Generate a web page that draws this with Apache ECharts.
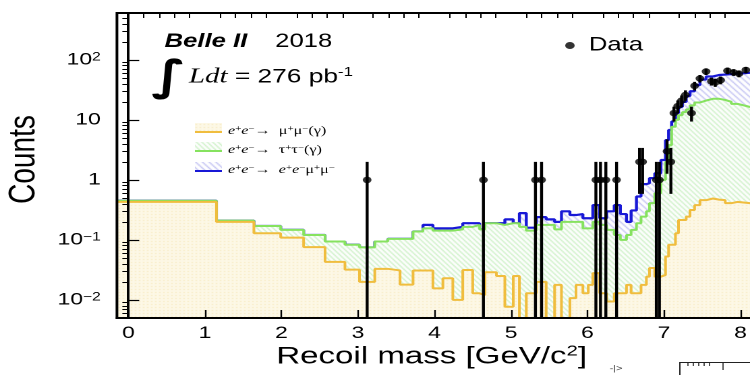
<!DOCTYPE html>
<html>
<head>
<meta charset="utf-8">
<title>Recoil mass distribution</title>
<script src="https://cdn.jsdelivr.net/npm/echarts@6.0.0/dist/echarts.min.js"></script>
<style>
  html, body { margin: 0; padding: 0; background: #ffffff; width: 750px; height: 375px; overflow: hidden; }
  /* the figure is laid out narrow and stretched horizontally to 750 px */
  #chart { width: 556px; height: 375px; transform-origin: 0 0; transform: scaleX(1.3489); }
</style>
</head>
<body>
<div id="chart"></div>
<script>
// Recoil-mass bin edges [GeV/c^2]; bins get narrower towards high mass
const massEdges = [-0.15, 1.15, 1.64, 1.99, 2.29, 2.57, 2.83, 3.02, 3.22, 3.39, 3.55, 3.72, 3.85, 3.98,
  4.11, 4.24, 4.37, 4.50, 4.59, 4.66, 4.81, 4.92, 5.03, 5.11, 5.20, 5.33, 5.46, 5.57, 5.66, 5.77,
  5.85, 5.94, 6.01, 6.07, 6.16, 6.25, 6.35, 6.43, 6.51, 6.57, 6.64, 6.70, 6.77, 6.81, 6.88, 6.96,
  7.02, 7.06, 7.10, 7.15, 7.19, 7.24, 7.29, 7.34, 7.40, 7.47, 7.55, 7.64, 7.72, 7.80, 7.88, 7.96,
  8.04, 8.12, 8.20];

// Stacked expectations per bin: mu mu(gamma); + tau tau(gamma); + e e mu mu
const levelMuMu = [0.43, 0.20, 0.129, 0.109, 0.076, 0.043, 0.032, 0.020, 0.033, 0.031, 0.018, 0.031,
  0.031, 0.0156, 0.023, 0.010, 0.0316, 0.0129, 0.012, 0.029, 0.025, 0.0077, 0.025, 0, 0.0129, 0.020,
  0, 0.0178, 0, 0.0107, 0.0178, 0.0129, 0.0178, 0.028, 0.0129, 0.0094, 0.0129, 0.0129, 0.0178, 0.0129,
  0.0129, 0.0178, 0.0245, 0.034, 0.0245, 0.026, 0.053, 0.083, 0.083, 0.129, 0.215, 0.215, 0.245, 0.316,
  0.38, 0.46, 0.49, 0.47, 0.46, 0.41, 0.43, 0.42, 0.41, 0.40];

const levelMuMuTauTau = [0.45, 0.21, 0.171, 0.147, 0.121, 0.094, 0.083, 0.075, 0.094, 0.104, 0.104, 0.138,
  0.156, 0.143, 0.143, 0.15, 0.165, 0.178, 0.15, 0.19, 0.178, 0.19, 0.19, 0.165, 0.143, 0.178,
  0.178, 0.15, 0.2, 0.2, 0.2, 0.156, 0.156, 0.2, 0.178, 0.147, 0.121, 0.1, 0.121, 0.147,
  0.19, 0.245, 0.3, 0.41, 0.6, 1.0, 2.0, 3.8, 7.7, 10, 12, 13.5, 15, 17.5,
  19.5, 21, 22.5, 22.5, 21.5, 20, 18.5, 17.5, 16.5, 16];

const levelTotal = [0.45, 0.21, 0.171, 0.147, 0.121, 0.094, 0.083, 0.075, 0.094, 0.104, 0.104, 0.138,
  0.178, 0.156, 0.156, 0.165, 0.19, 0.19, 0.15, 0.19, 0.19, 0.22, 0.19, 0.28, 0.16, 0.24,
  0.22, 0.2, 0.3, 0.26, 0.27, 0.23, 0.23, 0.38, 0.23, 0.3, 0.38, 0.27, 0.2, 0.31,
  0.53, 0.85, 0.88, 1.07, 1.29, 2.15, 4.6, 6.8, 9.4, 13, 16.5, 20, 25, 30,
  38, 47, 53, 56, 57, 58, 59, 60, 61, 61];

// Observed events
const dataMass = [3.12, 4.64, 5.32, 5.40, 6.11, 6.17, 6.24, 6.38, 6.68, 6.72, 6.90, 6.94, 7.04, 7.09,
  7.13, 7.18, 7.23, 7.28, 7.36, 7.40, 7.47, 7.55, 7.62, 7.67, 7.74, 7.83, 7.91, 7.98, 8.07];
const dataCounts = [1, 1, 1, 1, 1, 1, 1, 1, 2, 2, 1, 1, 3, 2,
  13, 17, 21, 26, 13, 37, 49, 64, 44, 42, 46, 66, 62, 59, 68];

// Axis ticks and labels
const xTickValues = [0, 1, 2, 3, 4, 5, 6, 7, 8];
const xMinorPerMajor = 5;
const yTickValues = [0.01, 0.1, 1, 10, 100];
const yTickBase = ['10', '10', '1', '10', '10'];
const yTickExp = ['\u22122', '\u22121', '', '', '2'];

const X_MIN = -0.15, X_MAX = 8.2;
const Y_MIN = 0.005, Y_MAX = 605;
const EMPTY = 1e-4;             // empty bins are drawn below the axis floor

const FONT = '"Liberation Sans", Arial, Helvetica, sans-serif';
const SERIF = '"Liberation Serif", "Times New Roman", serif';
const C_MUMU = '#f0bd3e', C_TAUTAU = '#86e25f', C_EEMUMU = '#1818d6';

// ---- fill patterns ----
function hatchPattern(bg, fg, w, h) {
  const c = document.createElement('canvas');
  c.width = w; c.height = h;
  const g = c.getContext('2d');
  g.fillStyle = bg; g.fillRect(0, 0, w, h);
  g.strokeStyle = fg; g.lineWidth = 1;
  g.beginPath();
  for (let k = -1; k <= 1; k++) {
    g.moveTo(k * w - w, -h); g.lineTo(k * w + 2 * w, 2 * h);
  }
  g.stroke();
  return { image: c, repeat: 'repeat' };
}
function dotPattern(bg, fg) {
  const c = document.createElement('canvas');
  c.width = 3; c.height = 3;
  const g = c.getContext('2d');
  g.fillStyle = bg; g.fillRect(0, 0, 3, 3);
  g.fillStyle = fg; g.fillRect(1, 1, 1, 1);
  return { image: c, repeat: 'repeat' };
}
const fillMuMu = dotPattern('#fdf8e6', '#f6e9bd');
const fillTauTau = hatchPattern('#ffffff', '#b9ecb0', 4, 5);
const fillEEMuMu = hatchPattern('#ffffff', '#a9a9ee', 5, 6);

// ---- derived series data ----
function histSteps(levels) {
  const pts = levels.map((v, i) => [massEdges[i], v > 0 ? v : EMPTY]);
  pts.push([massEdges[massEdges.length - 1], pts[pts.length - 1][1]]);
  return pts;
}
const dataPoints = dataMass.map((m, i) => [m, dataCounts[i]]);
const dataErrors = dataMass.map((m, i) => {
  const n = dataCounts[i], s = Math.sqrt(n);
  return [m, Math.max(n - s, Y_MIN), n + s];
});

const xMinorTicks = [];
for (let i = 0; i < xTickValues.length; i++) {
  for (let j = 1; j < xMinorPerMajor; j++) {
    const v = +(xTickValues[i] + j / xMinorPerMajor).toFixed(3);
    if (v <= X_MAX) xMinorTicks.push(v);
  }
}
const yMinorTicks = [];
for (let e = -3; e <= 2; e++) {
  for (let m = 2; m <= 9; m++) {
    const v = m * Math.pow(10, e);
    if (v >= Y_MIN && v <= Y_MAX) yMinorTicks.push(v);
  }
}

function yLabel(v) {
  let idx = 0, best = Infinity;
  yTickValues.forEach((t, i) => {
    const d = Math.abs(Math.log10(t) - Math.log10(v));
    if (d < best) { best = d; idx = i; }
  });
  return yTickExp[idx] ? '{b|' + yTickBase[idx] + '}{sup|' + yTickExp[idx] + '}' : '{b|' + yTickBase[idx] + '}';
}

function processLabel(finalState) {
  return '{e|e}{s|+}{e|e}{s|\u2212}{n|\u2192  }' + finalState;
}
const legendRich = {
  e: { fontFamily: SERIF, fontStyle: 'italic', fontSize: 12, color: '#000' },
  n: { fontFamily: SERIF, fontSize: 12, color: '#000' },
  s: { fontFamily: SERIF, fontSize: 8, color: '#000', verticalAlign: 'top' }
};
const legendRows = [
  { y: 131, fill: fillMuMu, color: C_MUMU, text: processLabel('{n|\u03bc}{s|+}{n|\u03bc}{s|\u2212}{n|(\u03b3)}') },
  { y: 150, fill: fillTauTau, color: C_TAUTAU, text: processLabel('{n|\u03c4}{s|+}{n|\u03c4}{s|\u2212}{n|(\u03b3)}') },
  { y: 170, fill: fillEEMuMu, color: C_EEMUMU, text: processLabel('{e|e}{s|+}{e|e}{s|\u2212}{n|\u03bc}{s|+}{n|\u03bc}{s|\u2212}') }
];

const graphics = [];
graphics.push({ type: 'text', x: 122, y: 42, z: 20,
  style: { text: 'Belle II', font: 'italic bold 19px ' + FONT, fill: '#000', verticalAlign: 'middle', textVerticalAlign: 'middle' } });
graphics.push({ type: 'text', x: 204, y: 42, z: 20,
  style: { text: '2018', font: '19px ' + FONT, fill: '#000', verticalAlign: 'middle', textVerticalAlign: 'middle' } });
graphics.push({ type: 'text', x: 125, y: 79, z: 20,
  style: { text: '\u222b', font: 'bold 42px "DejaVu Sans", ' + FONT, fill: '#000', align: 'center', textAlign: 'center', verticalAlign: 'middle', textVerticalAlign: 'middle' } });
graphics.push({ type: 'text', x: 140, y: 77, z: 20,
  style: {
    text: '{it|Ldt}{n| = 276 pb}{sup|-1}', fill: '#000', verticalAlign: 'middle', textVerticalAlign: 'middle',
    rich: {
      it: { fontFamily: SERIF, fontStyle: 'italic', fontSize: 21.5, color: '#000' },
      n: { fontFamily: FONT, fontSize: 19.5, color: '#000' },
      sup: { fontFamily: FONT, fontSize: 12.5, color: '#000', verticalAlign: 'top' }
    }
  } });
legendRows.forEach(r => {
  graphics.push({ type: 'rect', z: 20, shape: { x: 144.5, y: r.y - 8, width: 20, height: 9 },
    style: { fill: r.fill, stroke: null } });
  graphics.push({ type: 'line', z: 21, shape: { x1: 144.5, y1: r.y + 1, x2: 164.5, y2: r.y + 1 },
    style: { stroke: r.color, lineWidth: 2 } });
  graphics.push({ type: 'text', x: 169, y: r.y, z: 21,
    style: { text: r.text, rich: legendRich, verticalAlign: 'middle', textVerticalAlign: 'middle' } });
});
// frame of the neighbouring panel peeking in at the lower right
graphics.push({ type: 'text', x: 452, y: 369, z: 20,
  style: { text: '-|>', font: '8px ' + FONT, fill: '#333', verticalAlign: 'middle', textVerticalAlign: 'middle' } });
graphics.push({ type: 'rect', z: 20, shape: { x: 504, y: 362.5, width: 70, height: 30 },
  style: { fill: 'none', stroke: '#222', lineWidth: 1 } });
[510, 514, 518, 522, 526, 536].forEach((tx, i) => {
  graphics.push({ type: 'line', z: 20, shape: { x1: tx, y1: 362.5, x2: tx, y2: i === 5 ? 370 : 366 },
    style: { stroke: '#222', lineWidth: 0.8 } });
});

const chart = echarts.init(document.getElementById('chart'), null, { renderer: 'canvas', devicePixelRatio: 2 });

const axisLineStyle = { color: '#000', width: 2 };
const option = {
  animation: false,
  backgroundColor: '#ffffff',
  textStyle: { fontFamily: FONT, color: '#000' },
  grid: {
    left: 86.7, right: -4.3, top: 13, bottom: 57,
    show: true, borderColor: '#000', borderWidth: 2, backgroundColor: 'transparent',
    containLabel: false, outerBoundsMode: 'none', z: 10
  },
  legend: {
    data: [{ name: 'Data', icon: 'circle' }],
    left: 419, top: 36, padding: 0, itemWidth: 18, itemHeight: 7, itemGap: 0,
    selectedMode: false,
    textStyle: { fontSize: 19, color: '#000', fontFamily: FONT }
  },
  xAxis: [
    {
      type: 'value', min: X_MIN, max: X_MAX, gridIndex: 0, z: 10,
      axisLine: { show: true, lineStyle: axisLineStyle },
      axisTick: { show: true, inside: true, length: 8, customValues: xTickValues, lineStyle: { color: '#000', width: 1.2 } },
      axisLabel: { show: true, customValues: xTickValues, margin: 7, fontSize: 17, color: '#000', fontFamily: FONT,
        formatter: v => String(Math.round(v)) },
      splitLine: { show: false },
      name: 'Recoil mass [GeV/c{sup|2}]', nameLocation: 'middle', nameGap: 26, nameMoveOverlap: false,
      nameTextStyle: { fontSize: 24.5, color: '#000', fontFamily: FONT, padding: [0, 7, 0, 0],
        rich: { sup: { fontSize: 15, color: '#000', fontFamily: FONT, verticalAlign: 'top' } } }
    },
    {
      type: 'value', min: X_MIN, max: X_MAX, gridIndex: 0, z: 10,
      axisLine: { show: false },
      axisTick: { show: true, inside: true, length: 5, customValues: xMinorTicks, lineStyle: { color: '#000', width: 1 } },
      axisLabel: { show: false },
      splitLine: { show: false }
    }
  ],
  yAxis: [
    {
      type: 'log', logBase: 10, min: Y_MIN, max: Y_MAX, gridIndex: 0, z: 10,
      axisLine: { show: true, lineStyle: axisLineStyle },
      axisTick: { show: true, inside: true, length: 8, customValues: yTickValues, lineStyle: { color: '#000', width: 1.2 } },
      axisLabel: { show: true, customValues: yTickValues, margin: 12, formatter: yLabel,
        rich: {
          b: { fontSize: 17, color: '#000', fontFamily: FONT },
          sup: { fontSize: 11.5, color: '#000', fontFamily: FONT, verticalAlign: 'top' }
        } },
      splitLine: { show: false },
      name: 'Counts', nameLocation: 'middle', nameGap: 55, nameMoveOverlap: false,
      nameTextStyle: { fontSize: 28, color: '#000', fontFamily: FONT, padding: [0, 0, 0, 12] }
    },
    {
      type: 'log', logBase: 10, min: Y_MIN, max: Y_MAX, gridIndex: 0, z: 10,
      axisLine: { show: false },
      axisTick: { show: true, inside: true, length: 4.5, customValues: yMinorTicks, lineStyle: { color: '#000', width: 1 } },
      axisLabel: { show: false },
      splitLine: { show: false }
    }
  ],
  series: [
    {
      name: 'e+e- -> e+e-mu+mu-', type: 'line', step: 'end', data: histSteps(levelTotal),
      xAxisIndex: 0, yAxisIndex: 0, symbol: 'none', silent: true, z: 2,
      lineStyle: { color: C_EEMUMU, width: 2.2 },
      areaStyle: { color: fillEEMuMu, opacity: 1, origin: 'start' }
    },
    {
      name: 'e+e- -> tau+tau-(gamma)', type: 'line', step: 'end', data: histSteps(levelMuMuTauTau),
      xAxisIndex: 0, yAxisIndex: 0, symbol: 'none', silent: true, z: 3,
      lineStyle: { color: C_TAUTAU, width: 2 },
      areaStyle: { color: fillTauTau, opacity: 1, origin: 'start' }
    },
    {
      name: 'e+e- -> mu+mu-(gamma)', type: 'line', step: 'end', data: histSteps(levelMuMu),
      xAxisIndex: 0, yAxisIndex: 0, symbol: 'none', silent: true, z: 4,
      lineStyle: { color: C_MUMU, width: 2 },
      areaStyle: { color: fillMuMu, opacity: 1, origin: 'start' }
    },
    {
      name: 'Data errors', type: 'custom', data: dataErrors, xAxisIndex: 0, yAxisIndex: 0, z: 5, clip: true,
      encode: { x: 0, y: [1, 2] }, silent: true,
      renderItem: (params, api) => {
        const top = api.coord([api.value(0), api.value(2)]);
        const bot = api.coord([api.value(0), api.value(1)]);
        return { type: 'line', shape: { x1: top[0], y1: top[1], x2: bot[0], y2: bot[1] },
          style: { stroke: '#000', lineWidth: 2.2 } };
      }
    },
    {
      name: 'Data', type: 'scatter', data: dataPoints, xAxisIndex: 0, yAxisIndex: 0, z: 6,
      symbol: 'circle', symbolSize: 6.5, itemStyle: { color: '#000' }, silent: true
    }
  ],
  graphic: graphics
};
chart.setOption(option);
</script>
</body>
</html>
